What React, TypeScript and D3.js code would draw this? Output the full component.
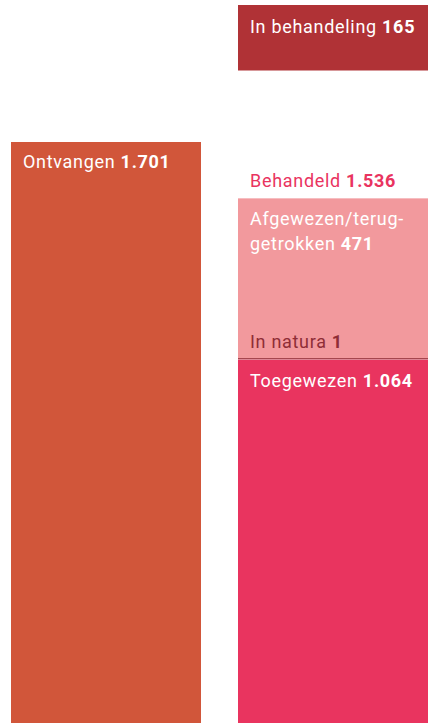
import React from "react";
import * as d3 from "d3";

const W = 429;
const H = 723;

const received = { label: "Ontvangen", value: 1701 };
const handled = { label: "Behandeld", value: 1536 };
const pending = { label: "In behandeling", value: 165 };
// stacked from the bottom
const handledParts = [
  { key: "Toegewezen", lines: ["Toegewezen"], value: 1064 },
  { key: "In natura", lines: ["In natura"], value: 1 },
  { key: "Afgewezen", lines: ["Afgewezen/terug-", "getrokken"], value: 471 },
];
const columns = ["Ontvangen", "Behandeld"];

const fmt = (v: number) => d3.format(",")(v).replace(/,/g, ".");

const COLORS = {
  received: "#d1563a",
  pending: "#b03236",
  Toegewezen: "#e9345f",
  "In natura": "#8f2d36",
  Afgewezen: "#f2999d",
  handledLabel: "#e9345f",
  naturaText: "#8f2d36",
};

export default function App() {
  const x = d3.scaleBand<string>().domain(columns).range([11, 428]).paddingInner(0.163).paddingOuter(0);
  const y = d3.scaleLinear().domain([0, received.value]).range([H, 142]);
  const bw = x.bandwidth();
  const x0 = x("Ontvangen")!;
  const x1 = x("Behandeld")!;

  let acc = 0;
  const stacks = handledParts.map((p) => {
    const s = { ...p, y0: acc, y1: acc + p.value };
    acc += p.value;
    return s;
  });

  const font = "Roboto, 'DejaVu Sans', sans-serif";
  const fs = 18;
  const ls = 0.7;
  const pad = 12;

  return (
    <svg
      width={W}
      height={H}
      style={{ position: "absolute", left: 0, top: 0, display: "block" }}
      fontFamily={font}
      fontSize={fs}
      fontWeight={400}
    >
      <rect x={0} y={0} width={W} height={H} fill="#fff" />
      {/* Ontvangen */}
      <rect x={x0} y={y(received.value)} width={bw} height={y(0) - y(received.value)} fill={COLORS.received} />
      <text x={x0 + pad} y={y(received.value) + 25.5} fill="#fff" letterSpacing={ls}>
        {received.label} <tspan fontWeight="bold">{fmt(received.value)}</tspan>
      </text>

      {/* In behandeling */}
      <rect x={x1} y={5} width={bw} height={65.5} fill={COLORS.pending} />
      <text x={x1 + pad} y={32.5} fill="#fff" letterSpacing={ls}>
        {pending.label} <tspan fontWeight="bold">{pending.value}</tspan>
      </text>

      {/* Behandeld label */}
      <text x={x1 + pad} y={y(handled.value) - 11} fill={COLORS.handledLabel} letterSpacing={ls}>
        {handled.label} <tspan fontWeight="bold">{fmt(handled.value)}</tspan>
      </text>

      {stacks.map((s) => {
        if (s.key === "In natura") return null;
        return (
          <rect
            key={s.key}
            x={x1}
            y={y(s.y1)}
            width={bw}
            height={y(s.y0) - y(s.y1)}
            fill={(COLORS as any)[s.key]}
          />
        );
      })}

      {stacks
        .filter((s) => s.key === "In natura")
        .map((s) => (
          <line key="nl" x1={x1} x2={x1 + bw} y1={y(s.y1) - 0.5} y2={y(s.y1) - 0.5} stroke={COLORS["In natura"]} strokeWidth={1} />
        ))}

      {/* labels */}
      {stacks.map((s) => {
        if (s.key === "In natura") {
          return (
            <text key={s.key + "t"} x={x1 + pad} y={y(s.y1) - 11} fill={COLORS.naturaText} letterSpacing={ls}>
              {s.lines[0]} <tspan fontWeight="bold">{fmt(s.value)}</tspan>
            </text>
          );
        }
        const top = y(s.y1);
        return (
          <text key={s.key + "t"} x={x1 + pad} y={top + 27} fill="#fff" letterSpacing={ls}>
            {s.lines.map((l, i) => (
              <tspan key={i} x={x1 + pad} dy={i === 0 ? 0 : 25}>
                {l}
                {i === s.lines.length - 1 ? (
                  <>
                    {" "}
                    <tspan fontWeight="bold">{fmt(s.value)}</tspan>
                  </>
                ) : null}
              </tspan>
            ))}
          </text>
        );
      })}
    </svg>
  );
}
